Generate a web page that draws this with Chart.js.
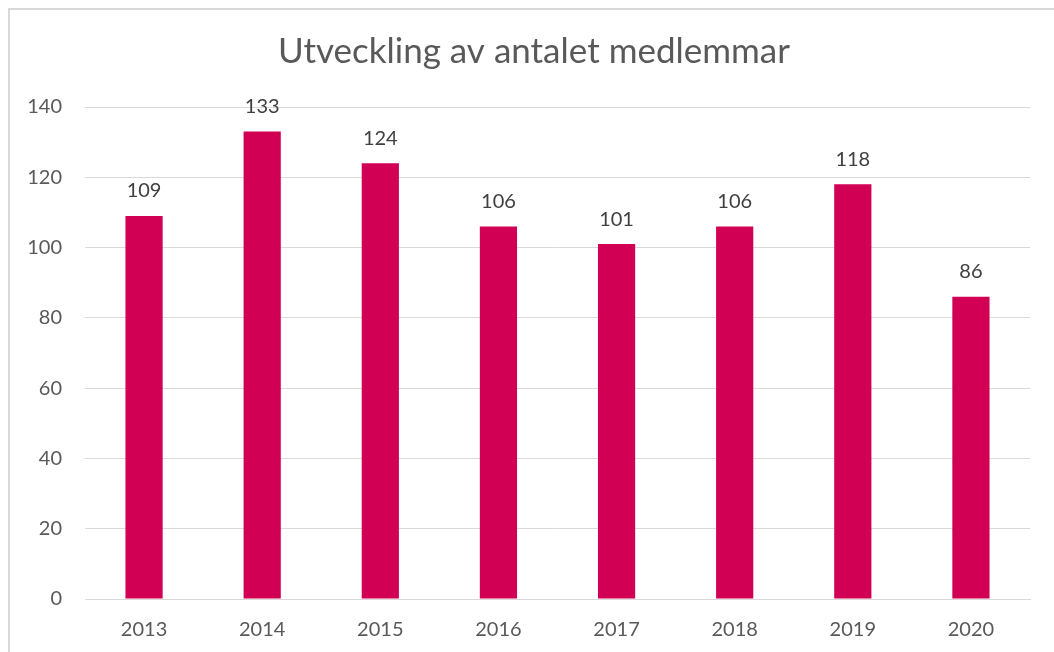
<!DOCTYPE html>
<html>
<head>
<meta charset="utf-8">
<script src="https://cdn.jsdelivr.net/npm/chart.js@4"></script>
<style>
  html, body { margin: 0; padding: 0; background: #fff; }
  #wrap { position: relative; width: 1054px; height: 652px; overflow: hidden; }
  #frame { position: absolute; left: 8px; top: 8px; width: 1060px; height: 660px; border: 2px solid #d9d9d9; box-sizing: border-box; }
  canvas { position: absolute; left: 0; top: 0; }
</style>
</head>
<body>
<div id="wrap">
  <div id="frame"></div>
  <canvas id="myChart" width="1054" height="652"></canvas>
</div>
<script>
var years = ['2013', '2014', '2015', '2016', '2017', '2018', '2019', '2020'];
var members = [109, 133, 124, 106, 101, 106, 118, 86];
var yTicks = [0, 20, 40, 60, 80, 100, 120, 140];
var chartTitle = 'Utveckling av antalet medlemmar';

var fontFamily = "Lato, 'Open Sans', sans-serif";

// title centred on the frame, not on the plot box
var frameTitle = {
  id: 'frameTitle',
  beforeDraw: function(chart) {
    var ctx = chart.ctx;
    ctx.save();
    ctx.font = '35px ' + fontFamily;
    ctx.fillStyle = '#595959';
    ctx.textAlign = 'center';
    ctx.textBaseline = 'middle';
    ctx.fillText(chartTitle, 534, 52);
    ctx.restore();
  }
};

// draws the value above each bar
var valueLabels = {
  id: 'valueLabels',
  afterDatasetsDraw: function(chart) {
    var ctx = chart.ctx;
    var meta = chart.getDatasetMeta(0);
    ctx.save();
    ctx.font = '20px ' + fontFamily;
    ctx.fillStyle = '#404040';
    ctx.textAlign = 'center';
    ctx.textBaseline = 'middle';
    meta.data.forEach(function(bar, i) {
      ctx.fillText(members[i], bar.x, bar.y - 25);
    });
    ctx.restore();
  }
};

var ctx = document.getElementById('myChart').getContext('2d');
var myChart = new Chart(ctx, {
  type: 'bar',
  data: {
    labels: years,
    datasets: [{
      data: members,
      backgroundColor: '#d20054',
      categoryPercentage: 1,
      barPercentage: 0.315
    }]
  },
  options: {
    responsive: false,
    animation: false,
    layout: {
      padding: { left: 0, right: 24, top: 107, bottom: 0 }
    },
    plugins: {
      legend: { display: false },
      tooltip: { enabled: false },
      title: { display: false }
    },
    scales: {
      x: {
        afterFit: function(scale) { scale.height = 53; },
        grid: { display: false, drawTicks: false },
        border: { display: true, color: '#d9d9d9', width: 1 },
        ticks: {
          color: '#595959',
          font: { family: fontFamily, size: 20 },
          padding: 19
        }
      },
      y: {
        min: 0,
        max: 140,
        afterBuildTicks: function(axis) {
          axis.ticks = yTicks.map(function(v) { return { value: v }; });
        },
        afterFit: function(scale) { scale.width = 85; },
        grid: { color: '#d9d9d9', drawTicks: false },
        border: { display: false },
        ticks: {
          color: '#595959',
          font: { family: fontFamily, size: 20 },
          padding: 23
        }
      }
    }
  },
  plugins: [frameTitle, valueLabels]
});
</script>
</body>
</html>
